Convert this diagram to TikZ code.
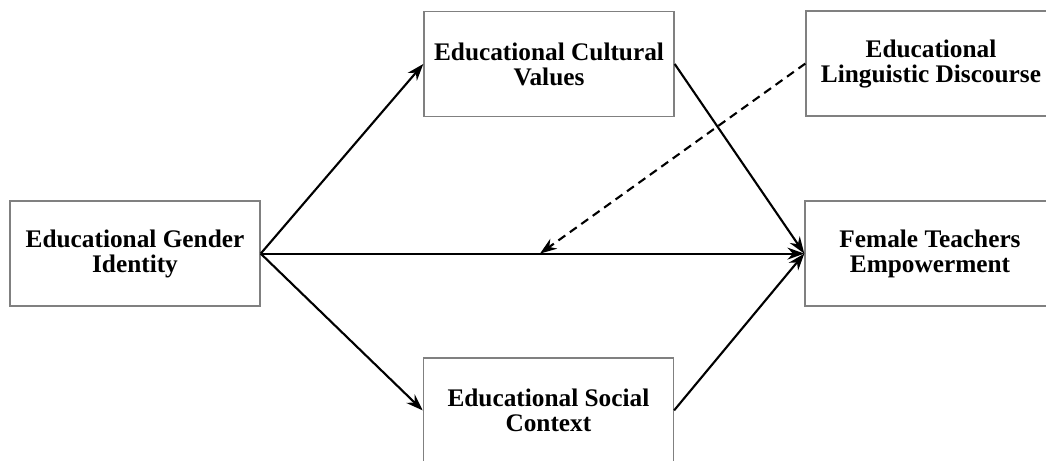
\documentclass[tikz,border=0pt]{standalone}
\usepackage{fontspec}
\setmainfont{Liberation Serif}
\usetikzlibrary{arrows.meta}

\tikzset{
  factor/.style={draw=gray,line width=1pt,fill=white,minimum width=6.25cm,
    minimum height=2.63cm,align=center,font=\fontsize{18}{17.8}\selectfont\bfseries},
  path/.style={line width=1.5pt,-{Stealth[length=12pt,width=8.5pt]}}
}

\begin{document}
\begin{tikzpicture}
  \useasboundingbox (0,0) rectangle (26.15,-11.525);
  \clip (0,0) rectangle (26.15,-11.525);
  \node[factor] (egi) at (3.375,-6.34) {Educational Gender\\Identity};
  \node[factor] (ecv) at (13.725,-1.6) {Educational Cultural\\Values};
  \node[factor] (eld) at (23.275,-1.59) {Educational\\Linguistic Discourse};
  \node[factor] (fte) at (23.25,-6.34) {Female Teachers\\Empowerment};
  \node[factor] (esc) at (13.71,-10.26) {Educational Social\\Context};
  \coordinate (mod) at (13.5,-6.34);
  % paths
  \draw[path] (egi.east) -- (ecv.west);
  \draw[path] (egi.east) -- (esc.west);
  \draw[path] (egi.east) -- (fte.west);
  \draw[path] (ecv.east) -- (fte.west);
  \draw[path] (esc.east) -- (fte.west);
  \draw[path,dash pattern=on 6pt off 4pt] (eld.west) -- (mod);
\end{tikzpicture}
\end{document}
